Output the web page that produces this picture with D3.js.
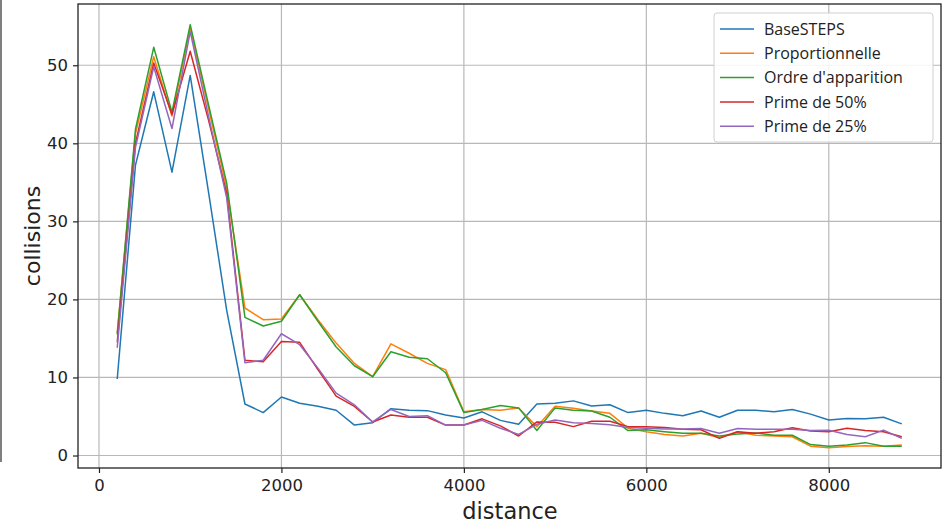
<!DOCTYPE html>
<html>
<head>
<meta charset="utf-8">
<script src="https://cdn.jsdelivr.net/npm/d3@7"></script>
<style>
  html, body { margin: 0; padding: 0; background: #fff; }
  #chart { width: 947px; height: 526px; }
  .tick text { font-family: "DejaVu Sans", sans-serif; font-size: 16.5px; fill: #222; }
</style>
</head>
<body>
<div id="chart"></div>
<script>
const distances = [200, 400, 600, 800, 1000, 1200, 1400, 1600, 1800, 2000, 2200, 2400, 2600, 2800, 3000,
  3200, 3400, 3600, 3800, 4000, 4200, 4400, 4600, 4800, 5000, 5200, 5400, 5600, 5800, 6000,
  6200, 6400, 6600, 6800, 7000, 7200, 7400, 7600, 7800, 8000, 8200, 8400, 8600, 8800];

const baseSteps = [9.8, 37.2, 46.6, 36.3, 48.7, 33.8, 18.6, 6.6, 5.5, 7.5, 6.7, 6.3, 5.8, 3.9, 4.2,
  6.0, 5.8, 5.75, 5.2, 4.8, 5.6, 4.5, 4.0, 6.6, 6.7, 7.0, 6.35, 6.5, 5.5, 5.8,
  5.4, 5.1, 5.7, 4.9, 5.8, 5.8, 5.6, 5.9, 5.3, 4.55, 4.75, 4.7, 4.9, 4.05];
const proportionnelle = [15.7, 41.2, 51.1, 43.5, 54.8, 44.5, 34.3, 18.9, 17.4, 17.5, 20.6, 17.4, 14.4, 11.8, 10.1,
  14.3, 13.1, 11.8, 11.0, 5.6, 5.9, 5.8, 6.1, 3.7, 6.3, 6.05, 5.7, 5.4, 3.5, 3.05,
  2.7, 2.5, 2.85, 2.3, 3.05, 2.6, 2.5, 2.4, 1.2, 1.0, 1.15, 1.25, 1.2, 1.35];
const ordreApparition = [15.5, 41.8, 52.3, 44.0, 55.2, 45.0, 34.9, 17.7, 16.6, 17.2, 20.6, 17.2, 13.9, 11.5, 10.1,
  13.3, 12.6, 12.4, 10.6, 5.5, 5.9, 6.4, 6.1, 3.2, 6.1, 5.8, 5.7, 4.9, 3.2, 3.3,
  3.05, 2.85, 2.85, 2.5, 2.75, 2.9, 2.6, 2.6, 1.4, 1.2, 1.35, 1.65, 1.2, 1.2];
const prime50 = [14.5, 40.0, 50.3, 43.7, 51.8, 43.0, 33.6, 12.2, 12.0, 14.6, 14.5, 11.0, 7.6, 6.3, 4.3,
  5.2, 4.9, 4.9, 3.9, 3.9, 4.7, 3.8, 2.5, 4.3, 4.25, 3.7, 4.4, 4.4, 3.7, 3.7,
  3.6, 3.35, 3.3, 2.2, 3.05, 2.85, 3.05, 3.55, 3.15, 3.05, 3.5, 3.2, 3.05, 2.4];
const prime25 = [13.8, 39.5, 49.8, 41.9, 54.3, 43.5, 33.0, 11.9, 12.2, 15.6, 14.2, 11.2, 8.0, 6.5, 4.3,
  5.9, 5.0, 5.1, 3.9, 3.9, 4.5, 3.5, 2.7, 4.0, 4.55, 4.2, 4.1, 3.95, 3.6, 3.5,
  3.4, 3.4, 3.45, 2.85, 3.45, 3.35, 3.35, 3.35, 3.2, 3.25, 2.7, 2.4, 3.25, 2.2];

const seriesNames = ["BaseSTEPS", "Proportionnelle", "Ordre d'apparition", "Prime de 50%", "Prime de 25%"];
const seriesValues = [baseSteps, proportionnelle, ordreApparition, prime50, prime25];
const seriesColors = ["#1f77b4", "#ff7f0e", "#2ca02c", "#d62728", "#9467bd"];

const xTicks = [0, 2000, 4000, 6000, 8000];
const yTicks = [0, 10, 20, 30, 40, 50];

const W = 947, H = 526;
const plot = {left: 78, right: 941, top: 4, bottom: 468};

const svg = d3.select("#chart").append("svg")
  .attr("width", W)
  .attr("height", H);

// stray page border on the far left of the screenshot
svg.append("line")
  .attr("x1", 1).attr("x2", 1)
  .attr("y1", 0).attr("y2", 462)
  .attr("stroke", "#555").attr("stroke-width", 1.5);

const x = d3.scaleLinear().domain([-230, 9230]).range([plot.left, plot.right]);
const y = d3.scaleLinear().domain([-1.6, 57.85]).range([plot.bottom, plot.top]);

// grid
const grid = svg.append("g");
grid.selectAll(".gx").data(xTicks).enter().append("line")
  .attr("x1", d => x(d)).attr("x2", d => x(d))
  .attr("y1", plot.top).attr("y2", plot.bottom)
  .attr("stroke", "#b8b8b8").attr("stroke-width", 1.2);
grid.selectAll(".gy").data(yTicks).enter().append("line")
  .attr("x1", plot.left).attr("x2", plot.right)
  .attr("y1", d => y(d)).attr("y2", d => y(d))
  .attr("stroke", "#b8b8b8").attr("stroke-width", 1.2);

// lines
const line = d3.line()
  .x((d, i) => x(distances[i]))
  .y(d => y(d));

svg.append("g").selectAll("path")
  .data(seriesValues)
  .enter().append("path")
  .attr("fill", "none")
  .attr("stroke", (d, i) => seriesColors[i])
  .attr("stroke-width", 1.5)
  .attr("stroke-linejoin", "round")
  .attr("d", line);

// frame
svg.append("rect")
  .attr("x", plot.left).attr("y", plot.top)
  .attr("width", plot.right - plot.left)
  .attr("height", plot.bottom - plot.top)
  .attr("fill", "none")
  .attr("stroke", "#222")
  .attr("stroke-width", 1.3);

// axes
svg.append("g")
  .attr("transform", `translate(0, ${plot.bottom})`)
  .call(d3.axisBottom(x).tickValues(xTicks).tickSize(5).tickPadding(6).tickFormat(d3.format("d")));
svg.append("g")
  .attr("transform", `translate(${plot.left}, 0)`)
  .call(d3.axisLeft(y).tickValues(yTicks).tickSize(5).tickPadding(5).tickFormat(d3.format("d")));
svg.selectAll(".domain").remove();
svg.selectAll(".tick line").attr("stroke", "#222").attr("stroke-width", 1.2);

svg.append("text")
  .attr("x", 510).attr("y", 519)
  .attr("text-anchor", "middle")
  .attr("font-family", "DejaVu Sans, sans-serif")
  .attr("font-size", 22.5)
  .attr("fill", "#222")
  .text("distance");

svg.append("text")
  .attr("transform", "translate(40, 236) rotate(-90)")
  .attr("text-anchor", "middle")
  .attr("font-family", "DejaVu Sans, sans-serif")
  .attr("font-size", 22)
  .attr("fill", "#222")
  .text("collisions");

// legend
const legend = svg.append("g");
legend.append("rect")
  .attr("x", 714).attr("y", 13)
  .attr("width", 219).attr("height", 129)
  .attr("rx", 3)
  .attr("fill", "#fff").attr("fill-opacity", 0.85)
  .attr("stroke", "#d0d0d0");

const rows = legend.selectAll(".row")
  .data(seriesNames)
  .enter().append("g")
  .attr("transform", (d, i) => `translate(0, ${29 + i * 24.3})`);
rows.append("line")
  .attr("x1", 720).attr("x2", 754)
  .attr("y1", 0).attr("y2", 0)
  .attr("stroke", (d, i) => seriesColors[i])
  .attr("stroke-width", 1.5);
rows.append("text")
  .attr("x", 764).attr("y", 0)
  .attr("dy", "0.35em")
  .attr("font-family", "Open Sans, sans-serif")
  .attr("font-size", 16)
  .attr("fill", "#222")
  .text(d => d);
</script>
</body>
</html>
